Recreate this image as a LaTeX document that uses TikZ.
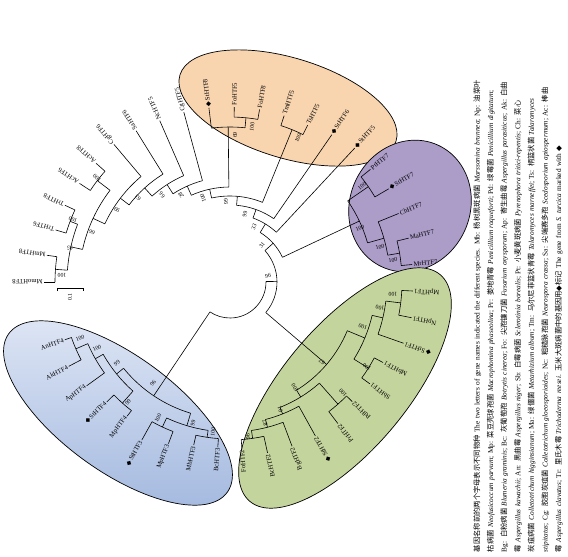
\documentclass[tikz,border=0pt]{standalone}
\usepackage{fontspec}
\setmainfont{Liberation Serif}
\newfontfamily\cjk{Noto Sans CJK SC}
\newfontfamily\dv{DejaVu Sans}
\usetikzlibrary{positioning}
\definecolor{peach}{HTML}{F8D4AF}
\definecolor{lilac}{HTML}{AB9CC8}
\definecolor{sage}{HTML}{C4D49D}
\definecolor{skyA}{HTML}{DCE4F4}
\definecolor{skyB}{HTML}{A6BBE0}
\newcommand\zh[1]{{\cjk #1}}
\newcommand\dia{{\dv ◆}}
\newcommand\mk{{\dv\fontsize{6.5}{6.5}\selectfont ◆}\,}
\newcommand\capline[1]{\noindent\hbox to 547pt{#1}\par}

\begin{document}
\begin{tikzpicture}[x=1pt,y=-1pt,
  branch/.style={line width=.6pt},
  clade/.style={draw,line width=.7pt},
  leaf/.style={font=\fontsize{6.6}{7}\selectfont,inner sep=.8pt},
  boot/.style={font=\fontsize{5.8}{6}\selectfont,inner sep=0pt},
  caption/.style={text width=547pt,align=left,inner sep=0pt,font=\fontsize{7.3}{13.6}\selectfont}]
\useasboundingbox (0,0) rectangle (568,557);
% clade ellipses
\filldraw[clade,fill=peach,shift={(288,108)},rotate=-17] (0,0) ellipse [x radius=113,y radius=50];
\filldraw[clade,fill=lilac,shift={(410,206)},rotate=-25] (0,0) ellipse [x radius=60,y radius=67];
\filldraw[clade,fill=sage,shift={(345,388)},rotate=50] (0,0) ellipse [x radius=148,y radius=62];
\draw[clade,top color=skyA,bottom color=skyB,shift={(118,413)},rotate=-36] (0,0) ellipse [x radius=135,y radius=58];

% tree, root in the middle
\begin{scope}[shift={(230,282)}]
% node arcs: radius/from/to
\foreach \r/\a/\b in {175/-180/-171.69,171/-163.38/-155.07,163/-175.85/-159.23,167/-146.76/-138.45,
  151/-167.54/-142.61,138/-155.08/-130.14,127/-142.61/-121.83,116/-132.22/-113.52,105/-122.87/-105.21,
  165/-88.59/-80.28,155/-96.9/-84.44,95/-114.04/-90.67,164.5/-71.97/-63.66,86/-102.36/-67.82,
  77/-85.09/-55.35,68/-70.22/-47.04,168/-38.73/-30.42,172/-13.8/-5.49,160/-22.11/-9.65,
  143/-34.58/-15.88,58/-58.63/-25.23,172/2.82/11.13,157/6.98/19.44,163/27.75/36.06,146/13.21/31.9,
  163/44.37/52.68,158/77.61/85.92,150/69.3/81.77,142/60.99/75.53,135/48.53/68.26,127/22.56/58.4,
  47/-41.93/40.48,157/94.23/102.54,160/110.85/119.16,150/98.39/115.0,162/127.47/135.78,
  168/152.4/160.71,155/144.09/156.56,146/131.63/150.32,137/106.7/140.98,36/-0.73/123.84}
  \draw[branch] (\a:\r) arc[start angle=\a,end angle=\b,radius=\r];
% inner branches: angle/from/to
\foreach \a/\r/\s in {-175.85/163/175,-159.23/163/171,-167.54/151/163,-142.61/151/167,-155.08/138/151,
  -142.61/127/138,-132.22/116/127,-122.87/105/116,-114.04/95/105,-90.67/95/155,-84.44/155/165,
  -102.36/86/95,-67.82/86/164.5,-85.09/77/86,-70.22/68/77,-58.63/58/68,-34.58/143/168,-15.88/143/160,
  -9.65/160/172,-25.23/58/143,-41.93/47/58,6.98/157/172,13.21/146/157,31.9/146/163,22.56/127/146,
  48.53/135/163,81.77/150/158,75.53/142/150,68.26/135/142,58.4/127/135,40.48/47/127,98.39/150/157,
  115.0/150/160,106.7/137/150,131.63/146/162,156.56/155/168,150.32/146/155,140.98/137/146,
  123.84/36/137,-0.73/36/47}
  \draw[branch] (\a:\r) -- (\a:\s);
% leaves
\foreach \i/\nm/\rp/\rt in {0/MmoHTF8/175/186,1/MmHTF8/175/185,2/TrHTF6/171/182,3/TrHTF8/171/182,
  4/AcHTF6/167/180,5/AcHTF8/167/179,6/CgHTF6/138/180,7/SaHTF6/127/178,8/NcHTF5/116/176,
  9/CgHTF5/105/176,10/{\mk StHTF8}/155/175.5,11/FoHTF5/165/175,12/FoHTF8/165/175,13/TmHTF5/164.5/175,
  14/TsHTF5/164.5/175,15/{\mk StHTF6}/77/179,16/{\mk StHTF5}/68/183,17/PtHTF7/168/180,
  18/{\mk StHTF7}/168/184,19/ChHTF7/160/182,20/MaHTF7/172/184,21/MrHTF7/172/183,22/MpHTF1/172/183,
  23/NpHTF1/172/185,24/{\mk StHTF1}/157/184,25/MbHTF1/163/173,26/SbHTF1/163/173,27/PdHTF2/163/171,
  28/PrHTF2/163/178,29/{\mk StHTF2}/142/176,30/BgHTF2/150/175.5,31/BcHTF2/158/175,32/FoHTF2/158/167,
  33/BcHTF3/157/165.5,34/MbHTF3/157/167,35/MpHTF3/160/173,36/{\mk StHTF3}/160/181,37/MpHTF4/162/169,
  38/{\mk StHTF4}/162/172,39/ApHTF4/155/177,40/AkHTF4/168/182,41/AnHTF4/168/175}{
  \pgfmathsetmacro\t{-180+8.31*\i}
  \draw[branch] (\t:\rp) -- (\t:\rt);
  \ifdim\t pt>0pt
    \pgfmathsetmacro\rr{180-\t}
    \node[leaf,anchor=east,rotate=\rr] (leaf\i) at (\t:\rt+.5) {\nm};
  \else
    \pgfmathsetmacro\rr{-\t}
    \node[leaf,anchor=west,rotate=\rr] (leaf\i) at (\t:\rt+.5) {\nm};
  \fi
}
\end{scope}

% bootstrap values
\foreach \x/\y/\v [count=\k] in {268/276/96,262/245/31,254/227/33,245/214/99,226/202/99,203/198/100,
  181/195/28,162/195/66,138/198/63,117/210/99,92/232/66,70/248/95,97/178/100,73/220/100,62/275/100,
  235/135/69,252/127/100,298/138/100,
  360/228/100,362/186/100,380/247/100,393/260/100,
  393/294/100,380/308/100,363/327/100,367/367/100,322/362/67,295/388/100,280/409/91,265/423/87,
  248/437/96,343/393/100,
  153/383/96,117/363/99,97/348/100,80/338/100,128/402/99,193/423/99,158/418/100,213/432/100}{
  \pgfmathsetmacro\t{atan2(\y-282,\x-230)}
  \ifdim\t pt>0pt \pgfmathsetmacro\rr{180-\t}\else\pgfmathsetmacro\rr{-\t}\fi
  \node[boot,rotate=\rr] (boot\k) at (\x,\y) {\v};
}

% scale bar
\draw[branch] (57,291) -- (57,288) -- (83,288) -- (83,291);
\node[boot,rotate=90] (scale) at (70,297) {0.1};

% caption
\node[caption,rotate=90] (cap) at (518,278.5) {%
\capline{\zh{基因名称前的两个字母表示不同物种} The two letters of gene names indicated the different species. Mb: \zh{杨树黑斑病菌} \textit{Marssonina brunnea}; Np: \zh{油菜叶}}
\capline{\zh{枯病菌} \textit{Neofusicoccum parvum}; Mp: \zh{菜豆壳球孢菌} \textit{Macrophomina phaseolina}; Pr: \zh{娄地青霉} \textit{Penicillium roqueforti}; Pd: \zh{绿霉菌} \textit{Penicillium digitatum};}
\capline{Bg: \zh{白粉病菌} \textit{Blumeria graminis}; Bc: \zh{灰葡萄孢} \textit{Botrytis cinerea}; Fo: \zh{尖孢镰刀菌} \textit{Fusarium oxysporum}; Ap: \zh{寄生曲霉} \textit{Aspergillus parasiticus}; Ak: \zh{白曲}}
\capline{\zh{霉} \textit{Aspergillus kawachii}; An: \zh{黑曲霉} \textit{Aspergillus niger}; Sb: \zh{白霉病菌} \textit{Sclerotinia borealis}; Pt: \zh{小麦黄斑病菌} \textit{Pyrenophora tritici-repentis}; Ch: \zh{菜心}}
\capline{\zh{炭疽病菌} \textit{Colletotrichum higginsianum}; Ma: \zh{绿僵菌} \textit{Metarhizium album}; Tm: \zh{马尔尼菲篮状青霉} \textit{Talaromyces marneffei}; Ts: \zh{柄篮状菌} \textit{Talaromyces}}
\capline{\textit{stipitatus}; Cg: \zh{胶胞炭疽菌} \textit{Colletotrichum gloeosporioides}; Nc: \zh{粗糙脉孢菌} \textit{Neurospora crassa}; Sa: \zh{尖端赛多孢} \textit{Scedosporium apiospermum}; Ac: \zh{棒曲}}
\noindent\zh{霉} \textit{Aspergillus clavatus}; Tr: \zh{里氏木霉} \textit{Trichoderma reesei}. \zh{玉米大斑病菌中的基因用}\dia\zh{标记} The gene from \textit{S. turcica} marked with \dia};
\end{tikzpicture}
\end{document}
